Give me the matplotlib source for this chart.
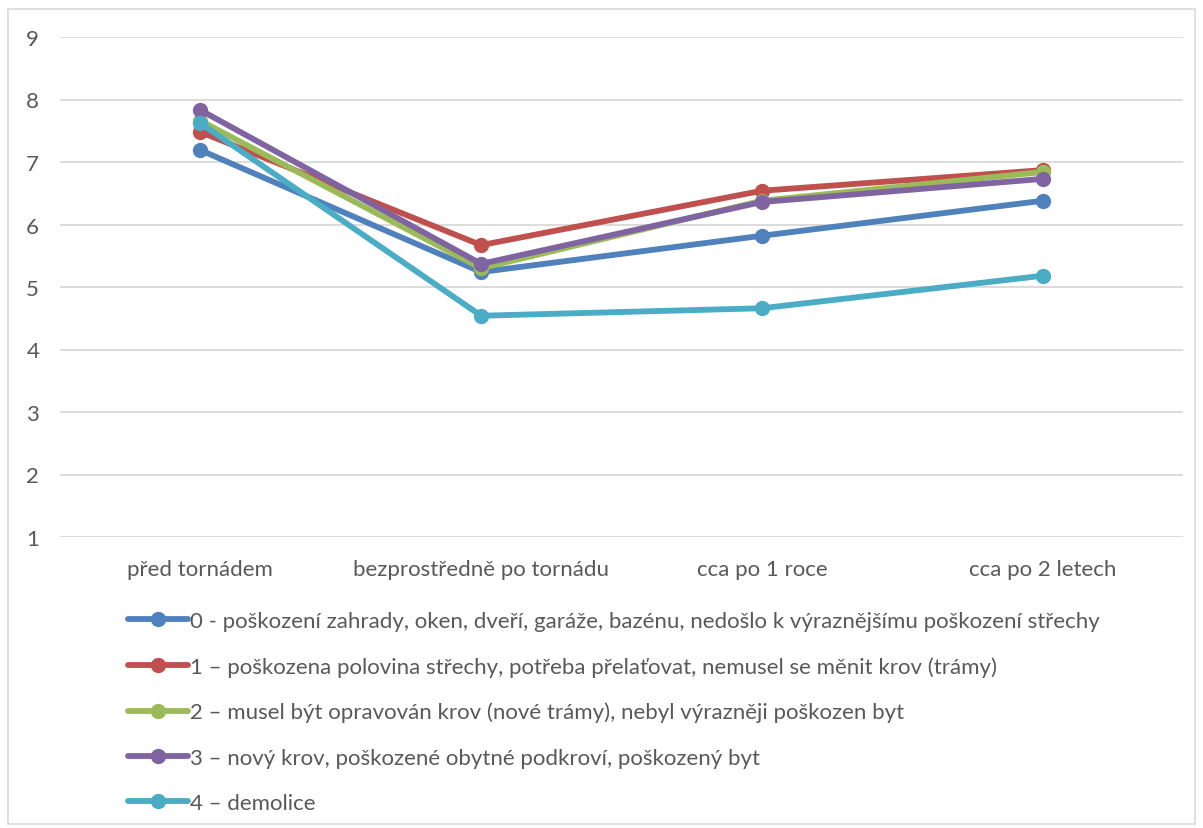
import matplotlib
matplotlib.use('Agg')
import matplotlib.pyplot as plt
from matplotlib.patches import Rectangle

plt.rcParams['font.family'] = ['Lato', 'DejaVu Sans']

# data
faze = ['před tornádem', 'bezprostředně po tornádu', 'cca po 1 roce', 'cca po 2 letech']
poskozeni = [
    '0 - poškození zahrady, oken, dveří, garáže, bazénu, nedošlo k výraznějšímu poškození střechy',
    '1 – poškozena polovina střechy, potřeba přelaťovat, nemusel se měnit krov (trámy)',
    '2 – musel být opravován krov (nové trámy), nebyl výrazněji poškozen byt',
    '3 – nový krov, poškozené obytné podkroví, poškozený byt',
    '4 – demolice',
]
st0 = [7.19, 5.24, 5.82, 6.38]
st1 = [7.48, 5.67, 6.54, 6.87]
st2 = [7.66, 5.30, 6.38, 6.84]
st3 = [7.83, 5.37, 6.36, 6.73]
st4 = [7.62, 4.54, 4.66, 5.18]
hodnoty = [st0, st1, st2, st3, st4]

BARVY = ['#4F81BD', '#C0504D', '#9BBB59', '#8064A2', '#4BACC6']

fig = plt.figure(figsize=(12.03, 8.29), dpi=100)
ax = fig.add_axes([60/1203, 1-538/829, (1183-60)/1203, 500/829])

x = range(len(faze))
for vals, lab, c in zip(hodnoty, poskozeni, BARVY):
    ax.plot(x, vals, color=c, lw=4.2, marker='o', ms=10, label=lab,
            solid_capstyle='round')

ax.set_xlim(-0.5, 3.5)
ax.set_ylim(1, 9)
ax.set_yticks(range(1, 10))
ax.set_xticks(list(x))
ax.set_xticklabels(faze)
ax.grid(axis='y', color='#D9D9D9', lw=1.3)
ax.set_axisbelow(True)
for s in ax.spines.values():
    s.set_visible(False)
ax.tick_params(length=0, labelsize=16, colors='#595959')
ax.tick_params(axis='y', pad=15)
ax.tick_params(axis='x', pad=16)

leg = fig.legend(loc='upper left', bbox_to_anchor=(128/1203, 1-612/829),
                 frameon=False, fontsize=16, handlelength=2.7, handletextpad=0.1,
                 labelspacing=1.13, borderaxespad=0, borderpad=0)
for t in leg.get_texts():
    t.set_color('#595959')

fig.patches.append(Rectangle((8/1203, 4/829), 1187/1203, 815/829, transform=fig.transFigure,
                             fill=False, edgecolor='#D9D9D9', lw=1.2))

plt.savefig('out.png', dpi=100)
